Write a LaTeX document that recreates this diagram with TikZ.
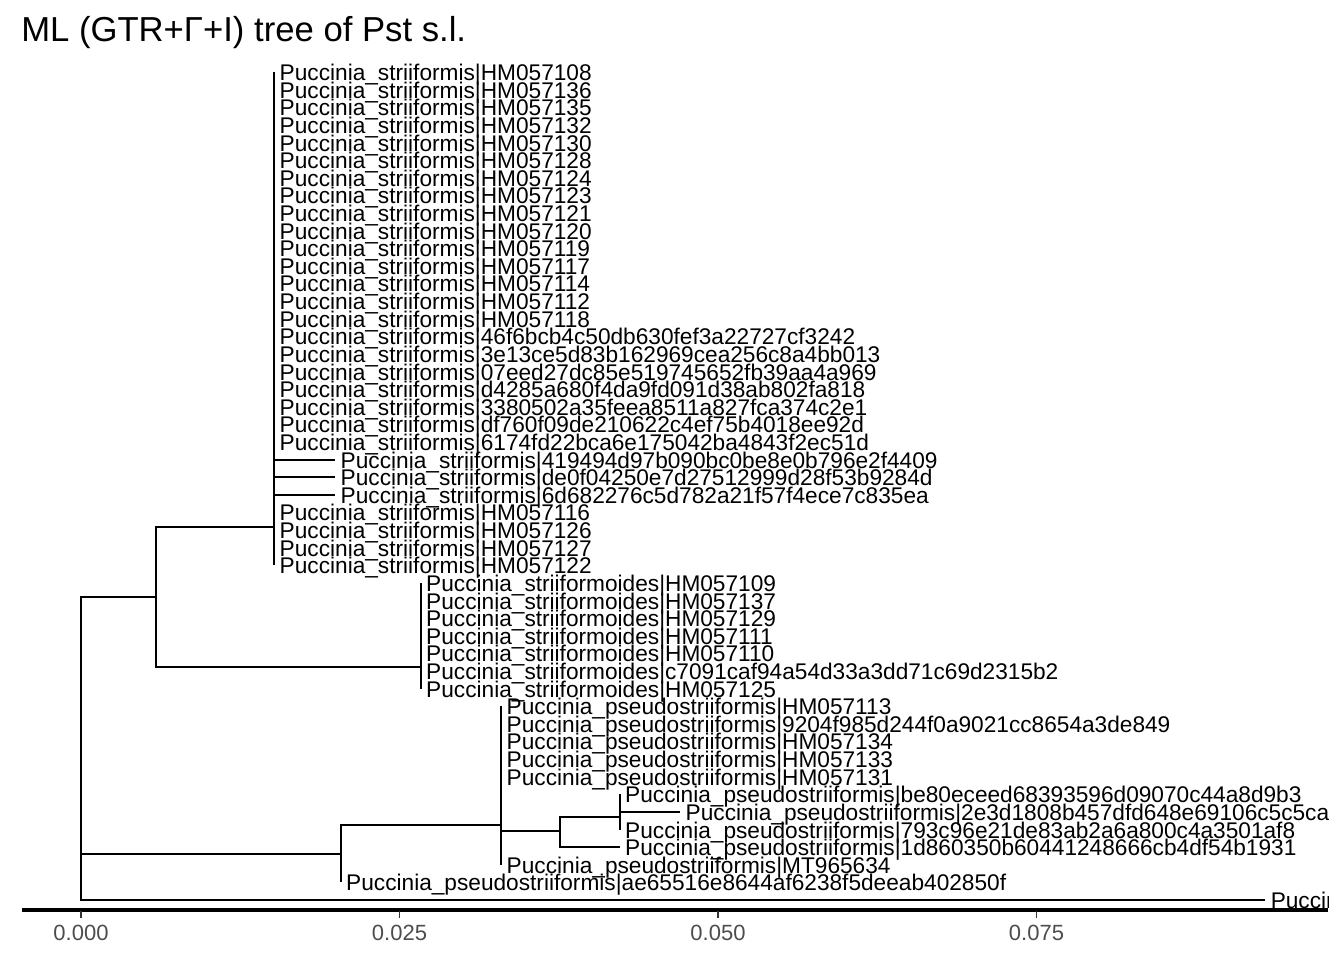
\documentclass[tikz,border=0pt]{standalone}
\usepackage{fontspec}
\setmainfont{Liberation Sans}
\usepackage{tikz}
\usetikzlibrary{positioning}
\definecolor{axgray}{HTML}{4D4D4D}
\definecolor{tkgray}{HTML}{333333}
\newcommand{\tipfont}{\fontsize{17}{17}\selectfont}
\newcommand{\axfont}{\fontsize{16.5}{16.5}\selectfont}
\newcommand{\ttlfont}{\fontsize{26}{26}\selectfont}
\tikzset{
  branch/.style ={line width=1.5pt, black},
  tiplab/.style ={anchor=base west, inner sep=0pt, xshift=4.1pt, yshift=-6.4pt, font=\tipfont},
  axisline/.style={line width=2.4pt, black},
  tick/.style   ={line width=1.2pt, tkgray},
  axlab/.style  ={anchor=base, inner sep=0pt, font=\axfont, text=axgray},
}
% y position of tip number #1 (pixels, top down)
\newcommand{\tipy}[1]{72+17.617*#1}

\begin{document}
\begin{tikzpicture}[x=0.75pt, y=-0.75pt]
    \useasboundingbox[fill=white] (0,0) rectangle (1344,960);
    \node[anchor=base west, inner sep=0pt, font=\ttlfont] (title) at (21,41) {ML (GTR+Γ+I) tree of Pst s.l.};
    % internal nodes
    \coordinate (root) at (81,784);
    \coordinate (nA)   at (155.5,597);
    \coordinate (nStr) at (274,527);
    \coordinate (nOid) at (420.5,667);
    \coordinate (nB)   at (340.5,854);
    \coordinate (nPse) at (501,825);
    \coordinate (nC)   at (560,831);
    \coordinate (nD)   at (619.5,817);
    \begin{scope}
    \clip (0,0) rectangle (1328,960);
    % backbone
    \draw[branch] (root) |- (nA);
    \draw[branch] (root) |- (nB);
    \draw[branch] (nA) |- (nStr);
    \draw[branch] (nA) |- (nOid);
    \draw[branch] (nB) |- (nPse);
    \draw[branch] (nPse) |- (nC);
    \draw[branch] (nC) |- (nD);
    % P. striiformis
    \foreach \lab/\bx [count=\i from 0] in {HM057108/274,HM057136/274,HM057135/274,
        HM057132/274,HM057130/274,HM057128/274,HM057124/274,HM057123/274,
        HM057121/274,HM057120/274,HM057119/274,HM057117/274,HM057114/274,
        HM057112/274,HM057118/274,46f6bcb4c50db630fef3a22727cf3242/274,
        3e13ce5d83b162969cea256c8a4bb013/274,07eed27dc85e519745652fb39aa4a969/274,
        d4285a680f4da9fd091d38ab802fa818/274,3380502a35feea8511a827fca374c2e1/274,
        df760f09de210622c4ef75b4018ee92d/274,6174fd22bca6e175042ba4843f2ec51d/274,
        419494d97b090bc0be8e0b796e2f4409/335,de0f04250e7d27512999d28f53b9284d/335,
        6d682276c5d782a21f57f4ece7c835ea/335,HM057116/274,HM057126/274,
        HM057127/274,HM057122/274}{
      \coordinate (tS\i) at (\bx,{\tipy{\i}});
      \draw[branch] (nStr) |- (tS\i);
      \node[tiplab] (lS\i) at (tS\i) {Puccinia\_striiformis|\lab};
    }
    % P. striiformoides
    \foreach \lab [count=\i from 29] in {HM057109,HM057137,HM057129,HM057111,
        HM057110,c7091caf94a54d33a3dd71c69d2315b2,HM057125}{
      \coordinate (tO\i) at (420.5,{\tipy{\i}});
      \draw[branch] (nOid) |- (tO\i);
      \node[tiplab] (lO\i) at (tO\i) {Puccinia\_striiformoides|\lab};
    }
    % P. pseudostriiformis
    \foreach \lab/\bx/\pn [count=\i from 36] in {HM057113/501/nPse,
        9204f985d244f0a9021cc8654a3de849/501/nPse,HM057134/501/nPse,
        HM057133/501/nPse,HM057131/501/nPse,
        be80eceed68393596d09070c44a8d9b3/619.5/nD,
        2e3d1808b457dfd648e69106c5c5ca/680/nD,
        793c96e21de83ab2a6a800c4a3501af8/619.5/nD,
        1d860350b60441248666cb4df54b1931/619.5/nC,
        MT965634/501/nPse,ae65516e8644af6238f5deeab402850f/340.5/nB}{
      \coordinate (tP\i) at (\bx,{\tipy{\i}});
      \draw[branch] (\pn) |- (tP\i);
      \node[tiplab] (lP\i) at (tP\i) {Puccinia\_pseudostriiformis|\lab};
    }
    % outgroup
    \coordinate (tOut) at (1265,{\tipy{47}});
    \draw[branch] (root) |- (tOut);
    \node[tiplab] (lOut) at (tOut) {Puccinia};
    \end{scope}
    % x axis
    \coordinate (axL) at (22,910);
    \coordinate (axR) at (1328,910);
    \draw[axisline] (axL) -- (axR);
    \foreach \v/\xx [count=\k] in {0.000/81,0.025/399.5,0.050/718,0.075/1036.5}{
      \coordinate (tk\k) at (\xx,911);
      \draw[tick] (tk\k) -- ++(0,7);
      \node[axlab] (ax\k) at (\xx,940) {\v};
    }
\end{tikzpicture}
\end{document}
